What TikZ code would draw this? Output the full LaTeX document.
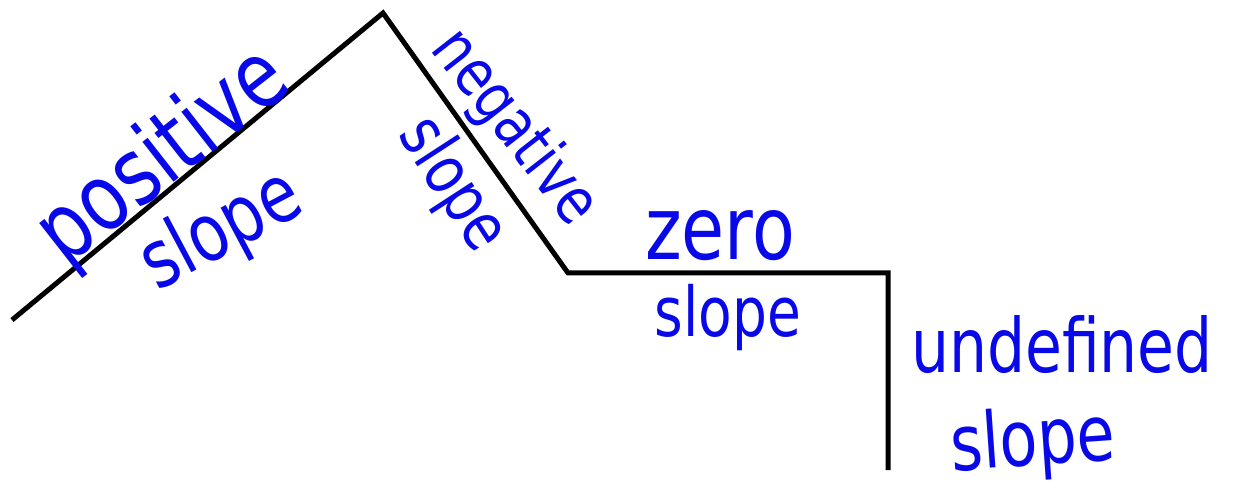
\documentclass[tikz,border=0pt]{standalone}
\usepackage{graphicx}
\usepackage{fontspec}
\setmainfont{DejaVu Sans}
\definecolor{ink}{RGB}{8,8,232}
\newcommand{\tallword}[1]{\scalebox{1}[1.25]{#1}}
\begin{document}
\begin{tikzpicture}[x=1pt,y=-1pt,
  hand/.style={text=ink, inner sep=0pt, anchor=center},
  fs/.style={font=\fontsize{#1}{#1}\selectfont},
  curve/.style={draw=black, line width=5pt, line join=miter, line cap=butt}]
\useasboundingbox (0,0) rectangle (1236,502);
\coordinate (p0) at (12,320);
\coordinate (p1) at (383,13);
\coordinate (p2) at (568,273);
\coordinate (p3) at (888,273);
\coordinate (p4) at (888,470);
\draw[curve] (p0) -- (p1) -- (p2) -- (p3) -- (p4);
\node[hand, fs=74, rotate=38] (pos) at (164,158) {\tallword{positive}};
\node[hand, fs=64, rotate=28] (posslope) at (222,232) {\tallword{slope}};
\node[hand, fs=52, rotate=-52] (neg) at (514,128) {\tallword{negative}};
\node[hand, fs=54, rotate=-57] (negslope) at (452,185) {\tallword{slope}};
\node[hand, fs=70] (zero) at (720,236) {\tallword{zero}};
\node[hand, fs=55] (zeroslope) at (728,318) {\tallword{slope}};
\node[hand, fs=60] (undef) at (1062,345) {\tallword{undefined}};
\node[hand, fs=62, rotate=4] (undefslope) at (1033,444) {\tallword{slope}};
\end{tikzpicture}
\end{document}
